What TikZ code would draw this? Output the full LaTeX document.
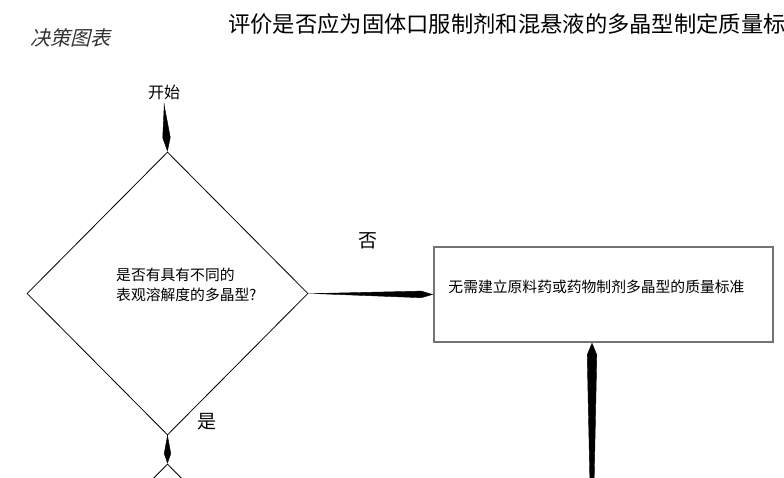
\documentclass[tikz,border=0pt]{standalone}
\usepackage{fontspec}
\setmainfont{Noto Sans CJK SC}
\newfontfamily\slantcjk[FakeSlant=0.25]{Noto Sans CJK SC}
\usetikzlibrary{shapes.geometric,arrows.meta,calc,positioning}
\begin{document}
\begin{tikzpicture}[x=1pt,y=-1pt,
	decision/.style={diamond, draw, line width=0.8pt, minimum width=281pt, minimum height=283pt, inner sep=0pt},
	result/.style={rectangle, draw=black!55, line width=1.5pt, minimum width=339pt, minimum height=95pt},
	taper/.style n args={3}{-{Kite[length=#1,width=#2,inset=#3]}, line width=0.4pt},
	small/.style={inner sep=0pt, font=\fontsize{14.8pt}{20pt}\selectfont},
	big/.style={inner sep=0pt, font=\fontsize{19pt}{22pt}\selectfont}]
	\useasboundingbox (0,0) rectangle (784,478);
	\node[anchor=west, inner sep=0pt, font=\fontsize{22.3pt}{24pt}\selectfont] (title) at (228,24) {评价是否应为固体口服制剂和混悬液的多晶型制定质量标};
	\node[inner sep=0pt, black!80, font=\fontsize{20pt}{22pt}\slantcjk] (chart) at (70,38) {决策图表};
	\node[inner sep=0pt, font=\fontsize{16pt}{18pt}\selectfont] (start) at (164,92) {开始};
	\node[decision] (q1) at (167.5,293.5) {};
	\node[decision] (q2) at (167.5,605.5) {};
	\node[small, anchor=west, align=left] (q1txt) at (116,285) {是否有具有不同的\\表观溶解度的多晶型?};
	\node[result] (nostd) at (603.5,294.5) {};
	\node[small, anchor=west] (nostdtxt) at ([xshift=15pt,yshift=7.5pt]nostd.west) {无需建立原料药或药物制剂多晶型的质量标准};
	\coordinate (up0) at (592,590);
	\draw[taper={48pt}{8pt}{34pt}] ([yshift=-3pt]start.south) -- (q1.north);
	\draw[taper={126pt}{7pt}{114pt}] (q1.east) -- (nostd.west);
	\draw[taper={29pt}{7pt}{19pt}] (q1.south) -- (q2.north);
	\draw[taper={248pt}{10pt}{236pt}] (up0) -- (up0 |- nostd.south);
	\node[big] (no) at (368,241) {否};
	\node[big] (yes) at (207,422) {是};
\end{tikzpicture}
\end{document}
